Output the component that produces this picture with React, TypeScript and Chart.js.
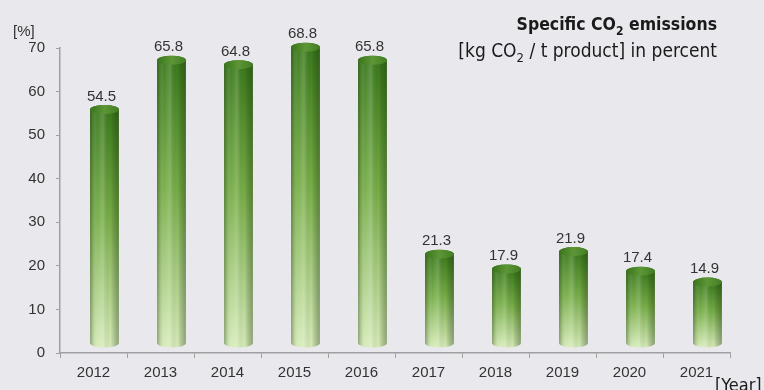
import React, { useEffect, useRef } from "react";
import { Chart, registerables } from "chart.js";
Chart.register(...registerables);

const years = ["2012", "2013", "2014", "2015", "2016", "2017", "2018", "2019", "2020", "2021"];
const values = [54.5, 65.8, 64.8, 68.8, 65.8, 21.3, 17.9, 21.9, 17.4, 14.9];
const yMin = 0;
const yMax = 70;
const yStep = 10;
const yUnit = "[%]";
const xUnit = "[Year]";
const titleLine1 = [
  { t: "Specific CO", sub: false },
  { t: "2", sub: true },
  { t: " emissions", sub: false },
];
const titleLine2 = [
  { t: "[kg CO", sub: false },
  { t: "2", sub: true },
  { t: " / t product] in percent", sub: false },
];

const BG = "#e9e9ed";
const TITLE_FONT = '"DejaVu Sans Condensed", "DejaVu Sans", sans-serif';
const NUM_FONT = '"Liberation Sans", Arial, sans-serif';

function drawRich(ctx: CanvasRenderingContext2D, segs: { t: string; sub: boolean }[], right: number, baseline: number, size: number, bold: boolean) {
  const w = bold ? "bold " : "";
  const fontMain = `${w}${size}px ${TITLE_FONT}`;
  const fontSub = `${w}${Math.round(size * 0.66)}px ${TITLE_FONT}`;
  let total = 0;
  const widths: number[] = [];
  segs.forEach((s) => {
    ctx.font = s.sub ? fontSub : fontMain;
    const m = ctx.measureText(s.t).width;
    widths.push(m);
    total += m;
  });
  let x = right - total;
  ctx.textAlign = "left";
  ctx.textBaseline = "alphabetic";
  segs.forEach((s, i) => {
    ctx.font = s.sub ? fontSub : fontMain;
    ctx.fillText(s.t, x, s.sub ? baseline + size * 0.26 : baseline);
    x += widths[i];
  });
}

const bgPlugin = {
  id: "bg",
  beforeDraw(chart: any) {
    const { ctx, width, height } = chart;
    ctx.save();
    ctx.fillStyle = BG;
    ctx.fillRect(0, 0, width, height);
    ctx.restore();
  },
};

const cylinderPlugin = {
  id: "cyl",
  afterDatasetsDraw(chart: any) {
    const ctx: CanvasRenderingContext2D = chart.ctx;
    const meta = chart.getDatasetMeta(0);
    const dx = 11;
    meta.data.forEach((el: any, i: number) => {
      const { x, y, base, width } = el.getProps(["x", "y", "base", "width"], true);
      const cx = x + dx;
      const rx = width / 2;
      const ry = 4.5;
      const topC = y - 6;
      const botC = base - 9.5;
      const left = cx - rx;
      const right = cx + rx;
      ctx.save();
      ctx.beginPath();
      ctx.moveTo(left, topC);
      ctx.lineTo(left, botC);
      ctx.ellipse(cx, botC, rx, ry, 0, Math.PI, 0, true);
      ctx.lineTo(right, topC);
      ctx.ellipse(cx, topC, rx, ry, 0, 0, Math.PI, true);
      ctx.closePath();
      const vg = ctx.createLinearGradient(0, topC, 0, botC + ry);
      vg.addColorStop(0, "#3a791b");
      vg.addColorStop(0.45, "#76ad46");
      vg.addColorStop(1, "#d6ebb8");
      ctx.fillStyle = vg;
      ctx.fill();
      const hg = ctx.createLinearGradient(left, 0, right, 0);
      hg.addColorStop(0, "rgba(20,50,0,0.40)");
      hg.addColorStop(0.25, "rgba(255,255,255,0.05)");
      hg.addColorStop(0.45, "rgba(255,255,255,0.18)");
      hg.addColorStop(0.7, "rgba(0,0,0,0)");
      hg.addColorStop(1, "rgba(30,50,20,0.38)");
      ctx.fillStyle = hg;
      ctx.fill();
      ctx.beginPath();
      ctx.ellipse(cx, topC, rx, ry, 0, 0, Math.PI * 2);
      const tg = ctx.createLinearGradient(left, 0, right, 0);
      tg.addColorStop(0, "#3a741c");
      tg.addColorStop(0.5, "#5c9636");
      tg.addColorStop(1, "#427d22");
      ctx.fillStyle = tg;
      ctx.fill();
      ctx.fillStyle = "#333333";
      ctx.font = `15px ${NUM_FONT}`;
      ctx.textAlign = "center";
      ctx.textBaseline = "bottom";
      ctx.fillText(values[i].toFixed(1), cx - 3, topC - ry - 1);
      ctx.restore();
    });
  },
};

const textPlugin = {
  id: "texts",
  afterDraw(chart: any) {
    const ctx: CanvasRenderingContext2D = chart.ctx;
    ctx.save();
    ctx.fillStyle = "#1a1a1a";
    drawRich(ctx, titleLine1, 717, 30, 17.5, true);
    drawRich(ctx, titleLine2, 717, 57, 19, false);
    ctx.fillStyle = "#333333";
    ctx.font = `15px ${NUM_FONT}`;
    ctx.textAlign = "left";
    ctx.textBaseline = "middle";
    ctx.fillText(yUnit, 13, 32);
    ctx.fillStyle = "#1a1a1a";
    ctx.font = `18px ${TITLE_FONT}`;
    ctx.fillText(xUnit, 715, 386);
    ctx.restore();
  },
};

export default function App() {
  const ref = useRef<HTMLCanvasElement | null>(null);
  useEffect(() => {
    document.body.style.margin = "0";
    document.body.style.background = BG;
    const chart = new Chart(ref.current as HTMLCanvasElement, {
      type: "bar",
      data: {
        labels: years,
        datasets: [
          {
            data: values,
            backgroundColor: "rgba(0,0,0,0)",
            borderWidth: 0,
            categoryPercentage: 1,
            barPercentage: 0.43,
          },
        ],
      },
      options: {
        animation: false,
        responsive: false,
        layout: { padding: { top: 48, right: 34, left: 0, bottom: 0 } },
        plugins: { legend: { display: false }, tooltip: { enabled: false }, title: { display: false } },
        scales: {
          x: {
            grid: { display: true, drawOnChartArea: false, drawTicks: true, tickLength: 5, color: "#a0a0a0", offset: true },
            border: { display: true, color: "#a0a0a0", width: 1.5 },
            ticks: { color: "#333333", font: { family: NUM_FONT, size: 15 }, padding: 6, maxRotation: 0 },
            afterFit: (s: any) => {
              s.height = 37;
            },
          },
          y: {
            min: yMin,
            max: yMax,
            grid: { display: true, drawOnChartArea: false, drawTicks: true, tickLength: 4, color: "#a0a0a0" },
            border: { display: true, color: "#a0a0a0", width: 1.5 },
            ticks: { stepSize: yStep, color: "#333333", font: { family: NUM_FONT, size: 15 }, padding: 11 },
            afterFit: (s: any) => {
              s.width = 60;
            },
          },
        },
      },
      plugins: [bgPlugin, cylinderPlugin, textPlugin],
    });
    return () => chart.destroy();
  }, []);
  return (
    <div style={{ width: 764, height: 390, position: "relative" }}>
      <canvas ref={ref} width={764} height={390} />
    </div>
  );
}
